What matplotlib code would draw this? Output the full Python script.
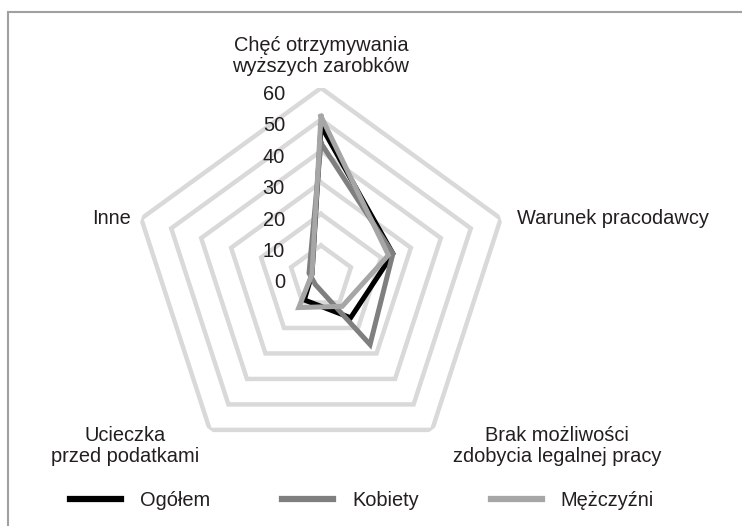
import numpy as np
import matplotlib.pyplot as plt
from matplotlib.patches import Rectangle
from matplotlib.lines import Line2D

plt.rcParams['font.family'] = ['Liberation Sans', 'DejaVu Sans']

# data
categories = ['Chęć otrzymywania\nwyższych zarobków', 'Warunek pracodawcy',
              'Brak możliwości\nzdobycia legalnej pracy', 'Ucieczka\nprzed podatkami', 'Inne']
ogolem = [48, 24, 16, 9, 3]
kobiety = [42.5, 24, 26.5, 3, 4]
mezczyzni = [51, 22.5, 11.5, 12, 3]
ticks = [0, 10, 20, 30, 40, 50, 60]

series = [('Ogółem', ogolem, '#000000'),
          ('Kobiety', kobiety, '#7f7f7f'),
          ('Mężczyźni', mezczyzni, '#a6a6a6')]

W, H = 742, 526
fig = plt.figure(figsize=(W / 100, H / 100), dpi=100)
txt_color = '#231f20'
fs = 14.4

# polar axes placed so that centre is at (321, 277) px and r=60 -> 189 px
cx, cy, R = 321, 277, 189
ax = fig.add_axes([(cx - R) / W, (H - cy - R) / H, 2 * R / W, 2 * R / H], projection='polar')
ax.set_theta_offset(np.pi / 2)
ax.set_theta_direction(-1)
ax.set_ylim(0, 60)
ax.grid(False)
ax.spines['polar'].set_visible(False)
ax.set_xticks([])
ax.set_yticks([])
ax.patch.set_alpha(0)

n = len(categories)
theta = np.linspace(0, 2 * np.pi, n, endpoint=False)
theta_c = np.append(theta, theta[0])

# pentagon gridlines
for t in ticks[1:]:
    ax.plot(theta_c, [t] * (n + 1), color='#d9d9d9', lw=3.2, solid_joinstyle='miter', zorder=1)

# series
for name, vals, col in series:
    ax.plot(theta_c, vals + [vals[0]], color=col, lw=3.6, solid_joinstyle='miter', label=name, zorder=3)

# radial tick labels
for t in ticks:
    ax.annotate(str(t), xy=(0, t), xytext=(-36, -6), textcoords='offset pixels',
                ha='right', va='center', fontsize=fs, color=txt_color, zorder=5)

# category labels
label_pos = [((0, 12), 'center', 'bottom'),
             ((16, 0), 'left', 'center'),
             ((125, 4), 'center', 'top'),
             ((-85, 4), 'center', 'top'),
             ((-10, 0), 'right', 'center')]
for th, lab, (off, ha, va) in zip(theta, categories, label_pos):
    ax.annotate(lab, xy=(th, 60), xytext=off, textcoords='offset pixels',
                ha=ha, va=va, multialignment='center', fontsize=fs,
                color=txt_color, linespacing=1.15, annotation_clip=False)

# frame (only top and left visible in the crop)
fig.add_artist(Rectangle((8 / W, -0.05), 1.1, 1 - 12 / H + 0.05, transform=fig.transFigure,
                         fill=False, edgecolor='#a0a0a0', lw=1.5))

# legend
handles = [Line2D([], [], color=col, lw=4.5) for _, _, col in series]
fig.legend(handles, [s[0] for s in series], loc='center', bbox_to_anchor=(362 / W, 1 - 500 / H),
           ncol=3, frameon=False, fontsize=fs, handlelength=2.55, handletextpad=0.95,
           columnspacing=3.6, labelcolor=txt_color)

fig.savefig('out.png', dpi=100)
